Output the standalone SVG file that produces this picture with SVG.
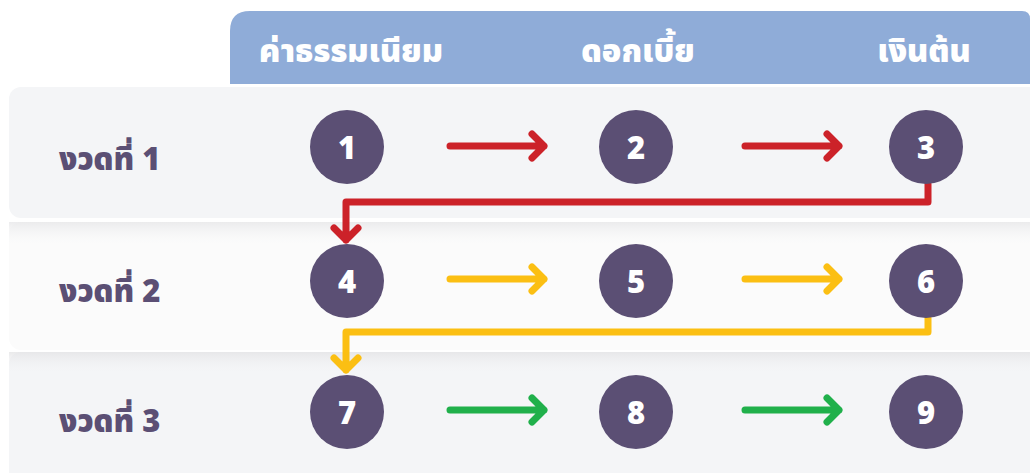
<svg xmlns="http://www.w3.org/2000/svg" width="1030" height="473" viewBox="0 0 1030 473">
  <defs>
    <linearGradient id="shade" x1="0" y1="0" x2="0" y2="1">
      <stop offset="0" stop-color="#E4E4E6" stop-opacity="1"/>
      <stop offset="1" stop-color="#F4F5F7" stop-opacity="0"/>
    </linearGradient>
    <style>
      .hdr { font-family: "Noto Sans Thai", "Noto Sans", "DejaVu Sans", sans-serif; font-size: 32px; font-weight: 900; fill: #FFFFFF; text-anchor: middle; }
      .lbl { font-family: "Noto Sans Thai", "Noto Sans", "DejaVu Sans", sans-serif; font-size: 31px; font-weight: 900; fill: #5B4F74; }
      .num { font-family: "Noto Sans", "Liberation Sans", sans-serif; font-size: 31px; font-weight: 900; fill: #FFFFFF; text-anchor: middle; dominant-baseline: central; }
      .circ { fill: #5B4F74; }
      .conn { fill: none; stroke-width: 7; stroke-linecap: round; stroke-linejoin: round; }
      .red { stroke: #CC2229; }
      .yel { stroke: #FBBF13; }
      .grn { stroke: #20B04B; }
    </style>
  </defs>

  <rect width="1030" height="473" fill="#FFFFFF"/>

  <g id="header">
    <path d="M230,84 L230,31 Q230,11 250,11 L1022,11 Q1030,11 1030,19 L1030,84 Z" fill="#8FACD8"/>
    <text class="hdr" x="351" y="62">ค่าธรรมเนียม</text>
    <text class="hdr" x="638" y="62">ดอกเบี้ย</text>
    <text class="hdr" x="924" y="62">เงินต้น</text>
  </g>

  <g id="rows">
    <rect id="row1" x="9" y="87" width="1040" height="131" rx="12" fill="#F4F5F7"/>
    <g id="row2">
      <rect x="9" y="222" width="1040" height="128" rx="12" fill="#FBFBFB"/>
      <rect x="9" y="222" width="1040" height="22" fill="url(#shade)" opacity="0.7"/>
    </g>
    <g id="row3">
      <rect x="9" y="352" width="1040" height="140" rx="12" fill="#F4F5F7"/>
      <rect x="9" y="352" width="1040" height="22" fill="url(#shade)" opacity="0.8"/>
    </g>
    <text class="lbl" x="59" y="170">งวดที่ 1</text>
    <text class="lbl" x="59" y="302">งวดที่ 2</text>
    <text class="lbl" x="59" y="432">งวดที่ 3</text>
  </g>

  <g id="connectors">
    <path class="conn red" d="M450,146 L544,146 M532,134 L544,146 L532,158"/>
    <path class="conn red" d="M745,146 L839,146 M827,134 L839,146 L827,158"/>
    <path class="conn red" d="M928,184 L928,202 L346,202 L346,240 M334,228 L346,240 L358,228"/>
    <path class="conn yel" d="M450,279 L544,279 M532,267 L544,279 L532,291"/>
    <path class="conn yel" d="M745,279 L839,279 M827,267 L839,279 L827,291"/>
    <path class="conn yel" d="M928,318 L928,332 L346,332 L346,370 M334,358 L346,370 L358,358"/>
    <path class="conn grn" d="M450,410 L544,410 M532,398 L544,410 L532,422"/>
    <path class="conn grn" d="M745,410 L839,410 M827,398 L839,410 L827,422"/>
  </g>

  <g id="n1"><circle class="circ" cx="347" cy="147" r="37"/><text class="num" x="347" y="147">1</text></g>
  <g id="n2"><circle class="circ" cx="636" cy="147" r="37"/><text class="num" x="636" y="147">2</text></g>
  <g id="n3"><circle class="circ" cx="926" cy="147" r="37"/><text class="num" x="926" y="147">3</text></g>
  <g id="n4"><circle class="circ" cx="347" cy="281" r="37"/><text class="num" x="347" y="281">4</text></g>
  <g id="n5"><circle class="circ" cx="636" cy="281" r="37"/><text class="num" x="636" y="281">5</text></g>
  <g id="n6"><circle class="circ" cx="926" cy="281" r="37"/><text class="num" x="926" y="281">6</text></g>
  <g id="n7"><circle class="circ" cx="347" cy="412" r="37"/><text class="num" x="347" y="412">7</text></g>
  <g id="n8"><circle class="circ" cx="636" cy="412" r="37"/><text class="num" x="636" y="412">8</text></g>
  <g id="n9"><circle class="circ" cx="926" cy="412" r="37"/><text class="num" x="926" y="412">9</text></g>
</svg>
